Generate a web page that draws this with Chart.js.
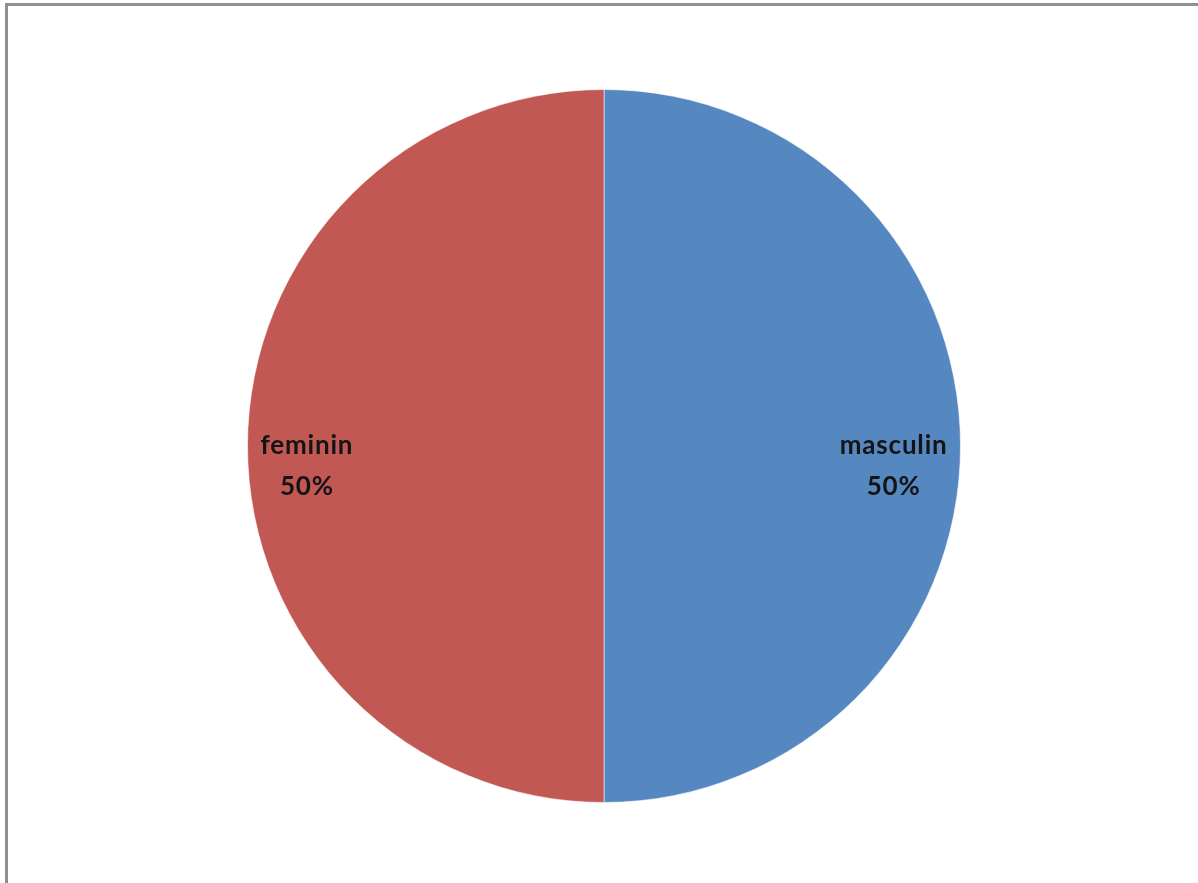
<!DOCTYPE html>
<html>
<head>
<meta charset="utf-8">
<script src="https://cdn.jsdelivr.net/npm/chart.js@4"></script>
<style>
  html, body { margin: 0; padding: 0; background: #fff; overflow: hidden; }
  #wrap { position: absolute; left: 0; top: 0; width: 1198px; height: 883px; }
  #frame { position: absolute; left: 5px; top: 3px; right: 0; bottom: 0;
           border-left: 3px solid #8f8f8f; border-top: 3px solid #8f8f8f; }
</style>
</head>
<body>
<div id="wrap">
  <div id="frame"></div>
  <canvas id="myChart" width="1198" height="883"></canvas>
</div>
<script>
const categories = ['masculin', 'feminin'];
const values = [50, 50];
const colors = ['#5588c1', '#c25853'];

// labels drawn inside each slice, tucked against the rim: name and percentage
const sliceLabels = {
  id: 'sliceLabels',
  afterDatasetsDraw(chart) {
    const ctx = chart.ctx;
    const meta = chart.getDatasetMeta(0);
    const total = values.reduce((a, b) => a + b, 0);
    const inset = 13;
    ctx.save();
    ctx.font = 'bold 26px Lato';
    ctx.letterSpacing = '0.8px';
    ctx.fillStyle = '#141414';
    ctx.textAlign = 'center';
    ctx.textBaseline = 'middle';
    meta.data.forEach((arc, i) => {
      const mid = (arc.startAngle + arc.endAngle) / 2;
      const pct = Math.round(values[i] / total * 100) + '%';
      const w = Math.max(ctx.measureText(categories[i]).width, ctx.measureText(pct).width);
      const r = arc.outerRadius - inset - w / 2;
      const x = arc.x + Math.cos(mid) * r;
      const y = arc.y + Math.sin(mid) * r;
      ctx.fillText(categories[i], x, y);
      ctx.fillText(pct, x, y + 41);
    });
    ctx.restore();
  }
};

const myChart = new Chart(document.getElementById('myChart'), {
  type: 'pie',
  data: {
    labels: categories,
    datasets: [{
      data: values,
      backgroundColor: colors,
      borderColor: 'rgba(255,255,255,0.55)',
      borderWidth: 1
    }]
  },
  options: {
    responsive: false,
    animation: false,
    layout: { padding: { left: 10, right: 0, top: 89, bottom: 80 } },
    plugins: {
      legend: { display: false },
      tooltip: { enabled: false }
    }
  },
  plugins: [sliceLabels]
});
</script>
</body>
</html>
